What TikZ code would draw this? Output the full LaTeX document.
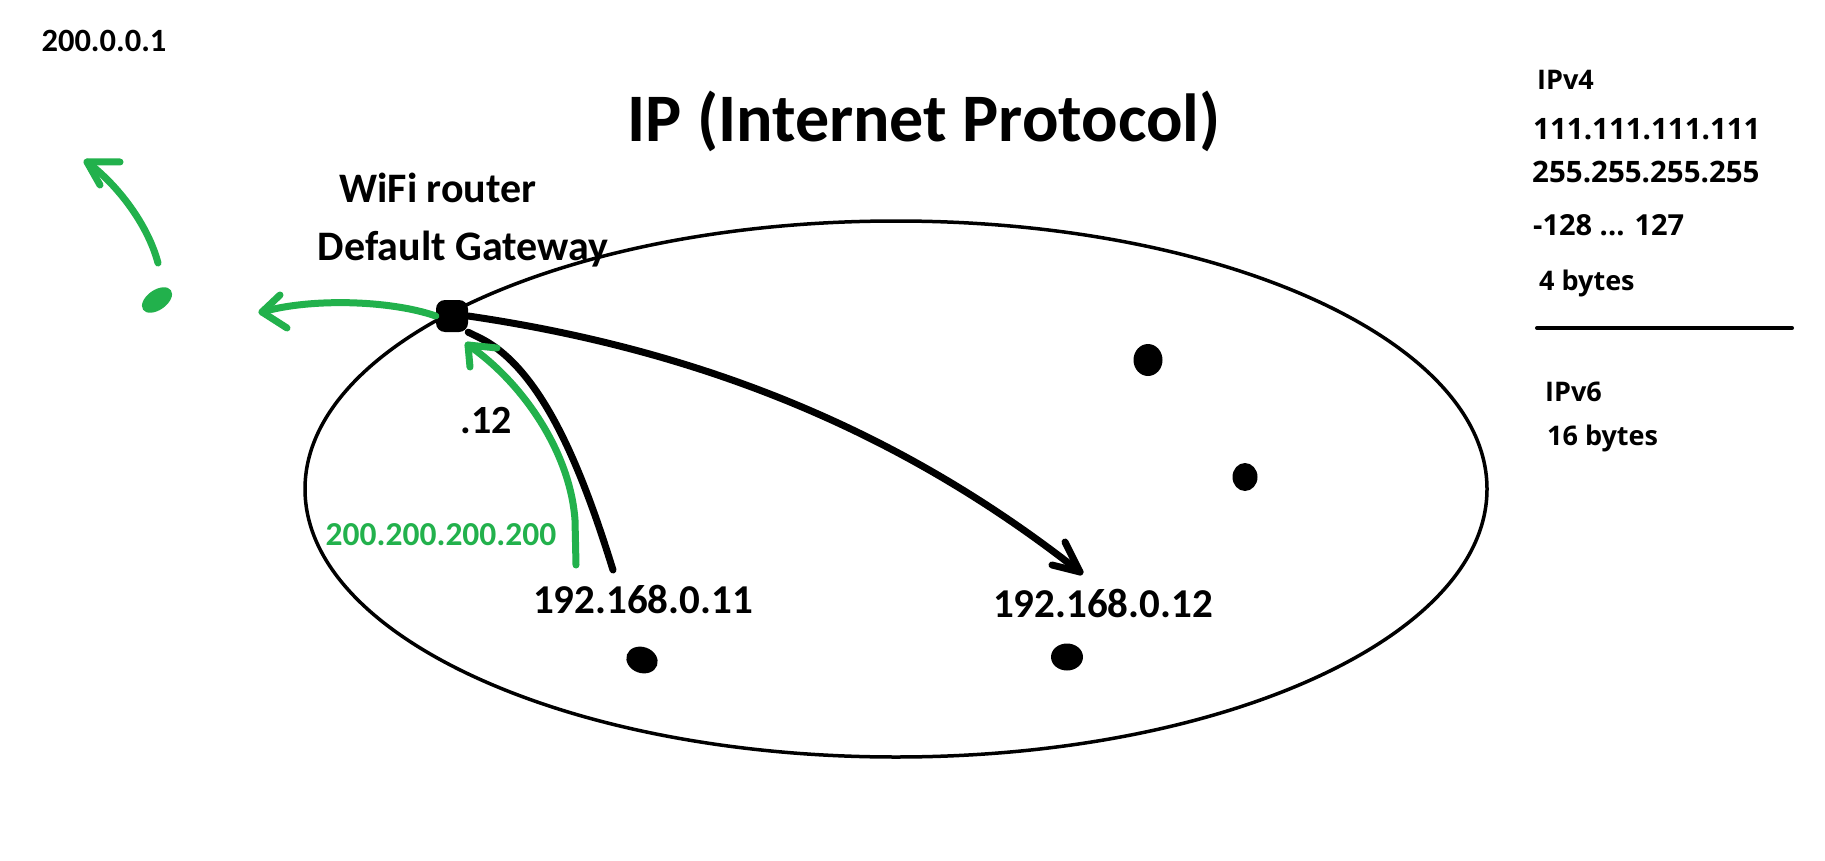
\documentclass[tikz,border=0pt]{standalone}
\usepackage{fontspec}
\setmainfont{Carlito}
\newfontfamily\rightfont{Open Sans}
\usetikzlibrary{shapes.geometric}
\definecolor{pgreen}{RGB}{34,177,76}
\begin{document}
\begin{tikzpicture}[x=1pt,y=-1pt,
  lbl/.style={inner sep=0pt, anchor=base},
  rlbl/.style={inner sep=0pt, anchor=base west},
  ink/.style={line width=7pt, line cap=round, line join=round},
  gink/.style={ink, draw=pgreen},
  bink/.style={ink, draw=black},
  dotb/.style={ellipse, fill=black, draw=none, inner sep=0pt}]
\useasboundingbox[fill=white] (0,0) rectangle (1825,861);

% network ellipse
\node[ellipse, draw, line width=3.5pt, inner sep=0pt, minimum width=1182pt, minimum height=536pt] (net) at (896,489) {};

% title and labels
\node[lbl, font=\bfseries\fontsize{68}{72}\selectfont] (title) at (924,142) {IP (Internet Protocol)};
\node[lbl, font=\bfseries\fontsize{32.5}{35}\selectfont] (ext) at (104,52) {200.0.0.1};
\node[lbl, font=\bfseries\fontsize{42}{46}\selectfont] (wifi) at (438,203) {WiFi router};
\node[lbl, font=\bfseries\fontsize{42}{46}\selectfont] (gw) at (463,260) {Default Gateway};
\node[lbl, font=\bfseries\fontsize{40}{44}\selectfont] (d12) at (486,433) {.12};
\node[lbl, text=pgreen, font=\bfseries\fontsize{33.5}{36}\selectfont] (pub) at (441,545) {200.200.200.200};
\node[lbl, font=\bfseries\fontsize{41}{44}\selectfont] (h11) at (643,613) {192.168.0.11};
\node[lbl, font=\bfseries\fontsize{41}{44}\selectfont] (h12) at (1103,617) {192.168.0.12};

% right column
\node[rlbl, font=\rightfont\bfseries\fontsize{27}{30}\selectfont] (v4) at (1537,90) {IPv4};
\node[rlbl, font=\rightfont\bfseries\fontsize{29.5}{32}\selectfont] (ones) at (1533,140) {111.111.111.111};
\node[rlbl, font=\rightfont\bfseries\fontsize{29.5}{32}\selectfont] (max) at (1532,183) {255.255.255.255};
\node[rlbl, font=\rightfont\bfseries\fontsize{29}{32}\selectfont] (rng) at (1533,235) {-128 ... 127};
\node[rlbl, font=\rightfont\bfseries\fontsize{27}{30}\selectfont] (b4) at (1539,290) {4 bytes};
\coordinate (sepL) at (1537,328);
\coordinate (sepR) at (1792,328);
\draw[line width=4pt, line cap=round] (sepL) -- (sepR);
\node[rlbl, font=\rightfont\bfseries\fontsize{27}{30}\selectfont] (v6) at (1545,401) {IPv6};
\node[rlbl, font=\rightfont\bfseries\fontsize{27}{30}\selectfont] (b16) at (1547,445) {16 bytes};

% router and hosts
\node[fill=black, inner sep=0pt, minimum size=32pt, rounded corners=9pt] (router) at (452,316) {};
\node[ellipse, fill=pgreen, inner sep=0pt, minimum width=34pt, minimum height=20pt, rotate=35] (gdot) at (157,300) {};
\node[dotb, minimum width=32pt, minimum height=26pt, rotate=-20] (dotA) at (642,660) {};
\node[dotb, minimum width=32pt, minimum height=27pt] (dotB) at (1067,657) {};
\node[dotb, minimum width=29pt, minimum height=32pt] (dotC) at (1148,360) {};
\node[dotb, minimum width=25pt, minimum height=28pt] (dotD) at (1245,477) {};

% green arrow router -> outside
\coordinate (gt1) at (262,312);
\coordinate (gt1a) at (280,295);
\coordinate (gt1b) at (287,328);
\draw[gink] (router.west) .. controls (390,300) and (310,298) .. (gt1);
\draw[gink] (gt1a) -- (gt1) -- (gt1b);

% green arrow outside node -> 200.0.0.1
\coordinate (gs2) at (158,263);
\coordinate (gt2) at (87,162);
\coordinate (gt2a) at (120,162);
\coordinate (gt2b) at (100,185);
\draw[gink] (gs2) .. controls (148,225) and (118,185) .. (gt2);
\draw[gink] (gt2a) -- (gt2) -- (gt2b);

% black line from 192.168.0.11 to router
\coordinate (bs) at (613,570);
\coordinate (bh) at (480,338);
\draw[bink] (bs) .. controls (585,480) and (545,370) .. (bh) -- (router.south east);

% green arrow 200.200.200.200 -> router
\coordinate (gs3) at (576,565);
\coordinate (gm3) at (575,520);
\coordinate (gt3) at (468,345);
\coordinate (gt3a) at (470,367);
\coordinate (gt3b) at (497,348);
\draw[gink] (gs3) -- (gm3) .. controls (570,450) and (520,380) .. (gt3);
\draw[gink] (gt3a) -- (gt3) -- (gt3b);

% black arrow router -> 192.168.0.12
\coordinate (bt) at (1080,572);
\coordinate (bta) at (1052,565);
\coordinate (btb) at (1065,542);
\draw[bink] (router.east) .. controls (700,350) and (900,430) .. (bt);
\draw[bink] (bta) -- (bt) -- (btb);
\end{tikzpicture}
\end{document}
